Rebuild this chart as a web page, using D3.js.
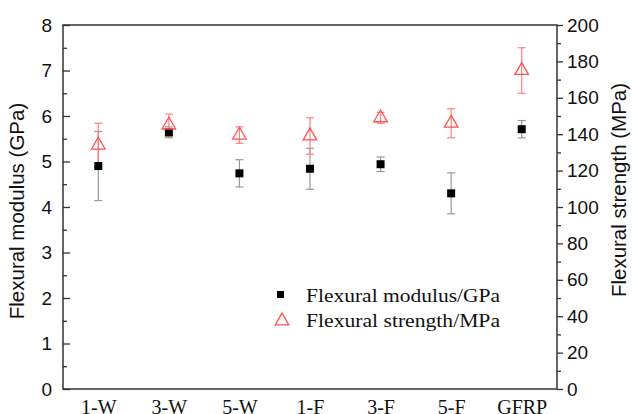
<!DOCTYPE html>
<html>
<head>
<meta charset="utf-8">
<script src="https://cdn.jsdelivr.net/npm/d3@7"></script>
<style>
  body { margin: 0; background: #fff; }
</style>
</head>
<body>
<svg width="632" height="414"></svg>
<script>
let categories = ['1-W', '3-W', '5-W', '1-F', '3-F', '5-F', 'GFRP'];
let modulus = [4.90, 5.64, 4.74, 4.84, 4.94, 4.30, 5.71];
let modulusErr = [0.76, 0.12, 0.30, 0.45, 0.16, 0.45, 0.19];
let strength = [134, 145, 139.5, 139, 149, 146, 175];
let strengthErr = [12, 6, 4.5, 10, 3, 8, 12.5];
let leftTicks = [0, 1, 2, 3, 4, 5, 6, 7, 8];
let rightTicks = [0, 20, 40, 60, 80, 100, 120, 140, 160, 180, 200];

let svg = d3.select('svg'),
    plotL = 63, plotR = 557, plotT = 25, plotB = 389;

let x = d3.scalePoint().domain(categories).range([plotL, plotR]).padding(0.5);
let yL = d3.scaleLinear().domain([0, 8]).range([plotB, plotT]);
let yR = d3.scaleLinear().domain([0, 200]).range([plotB, plotT]);

let red = '#ff5050';

// frame
svg.append('rect')
  .attr('x', plotL).attr('y', plotT)
  .attr('width', plotR - plotL).attr('height', plotB - plotT)
  .attr('fill', 'none').attr('stroke', '#333').attr('stroke-width', 1.5);

// left axis, ticks inward
let gl = svg.append('g').attr('transform', 'translate(' + plotL + ',0)')
  .call(d3.axisLeft(yL).tickValues(leftTicks).tickSize(-7).tickPadding(11).tickFormat(d3.format('d')));
gl.append('g').call(d3.axisLeft(yL).tickValues(d3.range(0.5, 8, 1)).tickSize(-4).tickFormat(''));
gl.selectAll('.domain').remove();
gl.selectAll('line').attr('stroke', '#333').attr('stroke-width', 1.3);
gl.selectAll('text').attr('font-family', 'Liberation Sans, Arial, sans-serif').attr('font-size', 19).attr('fill', '#111');

// right axis, ticks outward
let gr = svg.append('g').attr('transform', 'translate(' + plotR + ',0)')
  .call(d3.axisRight(yR).tickValues(rightTicks).tickSize(6).tickPadding(4));
gr.append('g').call(d3.axisRight(yR).tickValues(d3.range(10, 200, 20)).tickSize(4).tickFormat(''));
gr.selectAll('.domain').remove();
gr.selectAll('line').attr('stroke', '#333').attr('stroke-width', 1.3);
gr.selectAll('text').attr('font-family', 'Liberation Sans, Arial, sans-serif').attr('font-size', 19).attr('fill', '#111');

// bottom labels
let gb = svg.append('g').attr('transform', 'translate(0,' + plotB + ')')
  .call(d3.axisBottom(x).tickSize(0).tickPadding(11));
gb.selectAll('.domain').remove();
gb.selectAll('text').attr('font-family', 'Liberation Serif, Times New Roman, serif').attr('font-size', 20).attr('fill', '#111');

// axis titles
svg.append('text')
  .attr('transform', 'translate(24,' + ((plotT + plotB) / 2 + 4) + ') rotate(-90)')
  .attr('text-anchor', 'middle')
  .attr('font-family', 'Liberation Sans, Arial, sans-serif').attr('font-size', 20.5).attr('fill', '#111')
  .text('Flexural modulus (GPa)');
svg.append('text')
  .attr('transform', 'translate(626,190) rotate(-90)')
  .attr('text-anchor', 'middle')
  .attr('font-family', 'Liberation Sans, Arial, sans-serif').attr('font-size', 20.5).attr('fill', '#111')
  .text('Flexural strength (MPa)');

// error bars
function errorBars(vals, errs, y, color) {
  let g = svg.append('g').attr('stroke', color).attr('stroke-width', 1.2);
  categories.forEach(function(c, i) {
    let cx = x(c), y1 = y(vals[i] + errs[i]), y2 = y(vals[i] - errs[i]);
    g.append('line').attr('x1', cx).attr('x2', cx).attr('y1', y1).attr('y2', y2);
    g.append('line').attr('x1', cx - 4).attr('x2', cx + 4).attr('y1', y1).attr('y2', y1);
    g.append('line').attr('x1', cx - 4).attr('x2', cx + 4).attr('y1', y2).attr('y2', y2);
  });
}
errorBars(modulus, modulusErr, yL, '#999');
errorBars(strength, strengthErr, yR, '#ff8080');

let tri = d3.symbol().type(d3.symbolTriangle).size(80);

svg.append('g').selectAll('rect')
  .data(modulus).enter().append('rect')
  .attr('x', function(d, i) { return x(categories[i]) - 4; })
  .attr('y', function(d) { return yL(d) - 4; })
  .attr('width', 8).attr('height', 8)
  .attr('fill', '#000');

svg.append('g').selectAll('path')
  .data(strength).enter().append('path')
  .attr('d', tri)
  .attr('transform', function(d, i) { return 'translate(' + x(categories[i]) + ',' + yR(d) + ')'; })
  .attr('fill', 'none').attr('stroke', red).attr('stroke-width', 1.3);

// legend
let lg = svg.append('g').attr('font-family', 'Liberation Serif, Times New Roman, serif').attr('font-size', 18).attr('fill', '#111');
lg.append('rect').attr('x', 277).attr('y', 291).attr('width', 7).attr('height', 7).attr('fill', '#000');
lg.append('text').attr('x', 306).attr('y', 302).attr('textLength', 194).attr('lengthAdjust', 'spacingAndGlyphs')
  .text('Flexural modulus/GPa');
lg.append('path').attr('d', tri).attr('transform', 'translate(282,321)')
  .attr('fill', 'none').attr('stroke', red).attr('stroke-width', 1.3);
lg.append('text').attr('x', 306).attr('y', 327).attr('textLength', 194).attr('lengthAdjust', 'spacingAndGlyphs')
  .text('Flexural strength/MPa');
</script>
</body>
</html>
